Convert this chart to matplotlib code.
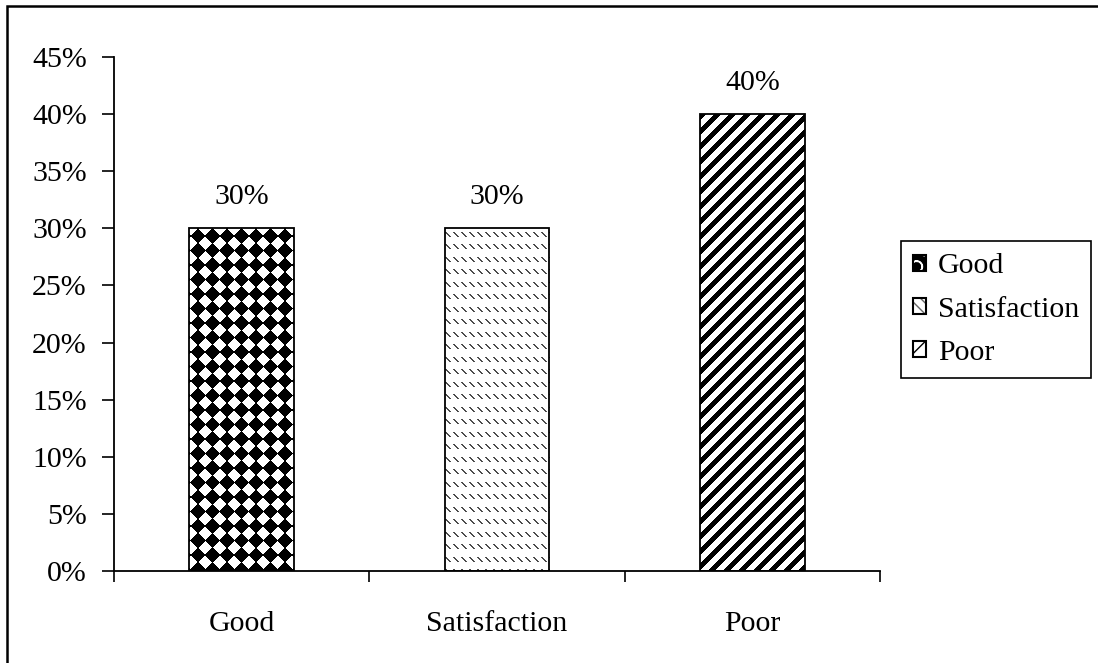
import numpy as np
import matplotlib
matplotlib.use('Agg')
import matplotlib.pyplot as plt
from matplotlib.patches import Patch, Rectangle
from matplotlib.ticker import FuncFormatter

plt.rcParams['font.family'] = ['Liberation Serif', 'DejaVu Serif']

categories = ['Good', 'Satisfaction', 'Poor']
shares = [0.30, 0.30, 0.40]
y_ticks = [0.00, 0.05, 0.10, 0.15, 0.20, 0.25, 0.30, 0.35, 0.40, 0.45]

FS = 21.5


# fill patterns, x from left edge and t from top edge of the bar, in pixels
def pat_good(x, t):
    s = 14.5
    dx = np.mod(x - 9 + s / 2, s) - s / 2
    dy = np.mod(t - 8 + s / 2, s) - s / 2
    return np.where(np.abs(dx) + np.abs(dy) < s * 0.53, 0.0, 1.0)


def pat_satis(x, t):
    p = 12.5
    v = np.mod(t - 4, p)
    dash = (v < 5) & (np.mod(x - v, 8) < 1.8)
    return np.where(dash, 0.3, 1.0)


def pat_poor(x, t):
    return np.where(np.mod(x + t, 15) < 7, 0.0, 1.0)


patterns = [pat_good, pat_satis, pat_poor]

fig = plt.figure(figsize=(10.98, 6.63), dpi=100)
ax = fig.add_axes([114 / 1098, 92 / 663, 766 / 1098, 514 / 663])

xpos = np.arange(len(categories))
bars = ax.bar(xpos, shares, width=0.41, color='white', edgecolor='none', zorder=1)
ax.set_xlim(-0.5, 2.5)
ax.set_ylim(0, 0.45)

# texture each bar with a pixel pattern clipped to the bar
for b, func in zip(bars, patterns):
    bb = b.get_window_extent()
    w = int(round(bb.width))
    h = int(round(bb.height))
    xx, yy = np.meshgrid(np.arange(w) + 0.5, np.arange(h) + 0.5)
    img = func(xx, h - yy)
    ax.imshow(img, extent=(b.get_x(), b.get_x() + b.get_width(), 0, b.get_height()),
              origin='lower', cmap='gray', vmin=0, vmax=1, interpolation='nearest',
              aspect='auto', clip_path=b, zorder=2)

ax.bar(xpos, shares, width=0.41, fill=False, edgecolor='black', linewidth=1.3, zorder=3)
ax.set_xlim(-0.5, 2.5)
ax.set_ylim(0, 0.45)

for x, v in zip(xpos, shares):
    ax.annotate(f'{v:.0%}', (x, v), xytext=(0, 13), textcoords='offset points',
                ha='center', va='bottom', fontsize=FS)

ax.spines['top'].set_visible(False)
ax.spines['right'].set_visible(False)
ax.spines['left'].set_linewidth(1.3)
ax.spines['bottom'].set_linewidth(1.3)

ax.set_yticks(y_ticks)
ax.yaxis.set_major_formatter(FuncFormatter(lambda v, p: f'{v:.0%}'))
ax.tick_params(axis='y', direction='out', length=8.6, width=1.2, pad=11, labelsize=FS)

ax.set_xticks(xpos)
ax.set_xticklabels(categories)
ax.set_xticks([-0.5, 0.5, 1.5, 2.5], minor=True)
ax.tick_params(axis='x', which='major', length=0, pad=29, labelsize=FS)
ax.tick_params(axis='x', which='minor', direction='out', length=8, width=1.2)

# legend keys: a fill patch under a black outline
with plt.rc_context({'hatch.linewidth': 2.5}):
    key_good = Patch(facecolor='black', edgecolor='white', hatch='O', linewidth=0)
    key_poor = Patch(facecolor='white', edgecolor='black', hatch='/', linewidth=0)
with plt.rc_context({'hatch.linewidth': 1.0}):
    key_satis = Patch(facecolor='white', edgecolor='#666666', hatch='\\\\\\', linewidth=0)
outline = Patch(fill=False, edgecolor='black', linewidth=1.5)
handles = [(key_good, outline), (key_satis, outline), (key_poor, outline)]

leg = fig.legend(handles=handles, labels=categories, loc='center left',
                 bbox_to_anchor=(901 / 1098, 1 - 309.5 / 663),
                 fontsize=FS, frameon=True, fancybox=False, edgecolor='black',
                 handlelength=0.45, handleheight=0.45, handletextpad=0.38,
                 labelspacing=0.58, borderpad=0.4, borderaxespad=0)
leg.get_frame().set_linewidth(1.2)
leg.get_frame().set_alpha(1)

# outer frame, runs off the right and bottom edges
fig.patches.append(Rectangle((7 / 1098, -0.1), 2, 1 - 6 / 663 + 0.1, transform=fig.transFigure,
                             fill=False, edgecolor='black', linewidth=1.8))

fig.savefig('out.png', dpi=100)
